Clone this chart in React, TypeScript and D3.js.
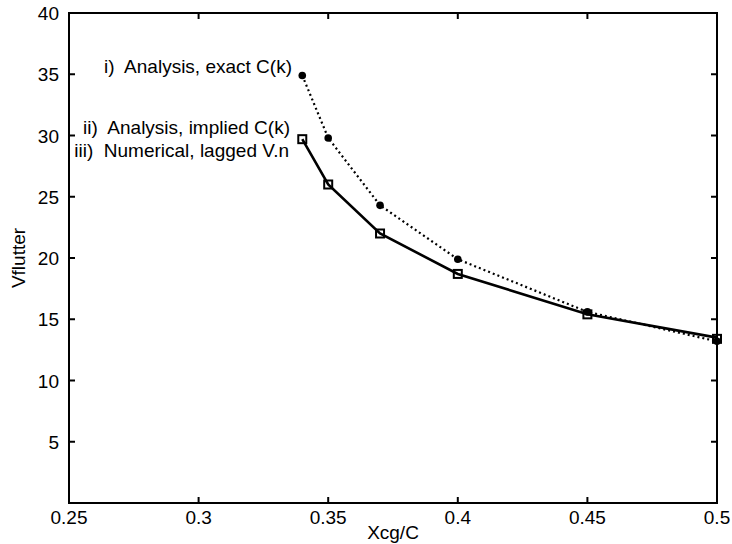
import React from "react";
import * as d3 from "d3";

const xcg: number[] = [0.34, 0.35, 0.37, 0.4, 0.45, 0.5];
const exactCk: number[] = [34.9, 29.8, 24.3, 19.9, 15.6, 13.2];
const impliedCk: number[] = [29.7, 26.0, 22.0, 18.7, 15.4, 13.5];
const laggedVn: number[] = [29.7, 26.0, 22.0, 18.7, 15.4, 13.4];
const xTicks: number[] = [0.25, 0.3, 0.35, 0.4, 0.45, 0.5];
const yTicks: number[] = [5, 10, 15, 20, 25, 30, 35, 40];
const labels: string[] = [
  "i)  Analysis, exact C(k)",
  "ii)  Analysis, implied C(k)",
  "iii)  Numerical, lagged V.n",
];

const W = 732;
const H = 544;
const L = 69, R = 717, T = 13, B = 503;
const FONT = "'Liberation Sans', Arial, Helvetica, sans-serif";
const FS = 19;

export default function App() {
  const x = d3.scaleLinear().domain([0.25, 0.5]).range([L, R]);
  const y = d3.scaleLinear().domain([0, 40]).range([B, T]);
  const line = d3
    .line<[number, number]>()
    .x((d) => x(d[0]))
    .y((d) => y(d[1]));
  const ptsI = xcg.map((v, i) => [v, exactCk[i]] as [number, number]);
  const ptsII = xcg.map((v, i) => [v, impliedCk[i]] as [number, number]);
  const ptsIII = xcg.map((v, i) => [v, laggedVn[i]] as [number, number]);
  const tl = 6;
  return (
    <svg
      width={W}
      height={H}
      style={{ position: "absolute", left: 0, top: 0, background: "#fff" }}
      fontFamily={FONT}
    >
      <rect x={0} y={0} width={W} height={H} fill="#fff" />
      <rect x={L} y={T} width={R - L} height={B - T} fill="none" stroke="#000" strokeWidth={2} />
      {xTicks.map((t) => (
        <g key={"x" + t}>
          <line x1={x(t)} x2={x(t)} y1={B} y2={B - tl} stroke="#000" strokeWidth={2} />
          <line x1={x(t)} x2={x(t)} y1={T} y2={T + tl} stroke="#000" strokeWidth={2} />
          <text x={x(t)} y={B + 21} fontSize={FS} textAnchor="middle" fill="#000">
            {String(t)}
          </text>
        </g>
      ))}
      {yTicks.map((t) => (
        <g key={"y" + t}>
          <line x1={L} x2={L + tl} y1={y(t)} y2={y(t)} stroke="#000" strokeWidth={2} />
          <line x1={R} x2={R - tl} y1={y(t)} y2={y(t)} stroke="#000" strokeWidth={2} />
          <text x={L - 10} y={y(t) + 7} fontSize={FS} textAnchor="end" fill="#000">
            {String(t)}
          </text>
        </g>
      ))}
      <text x={(L + R) / 2} y={539} fontSize={FS} textAnchor="middle" fill="#000">
        Xcg/C
      </text>
      <text
        transform={`translate(25, ${(T + B) / 2}) rotate(-90)`}
        fontSize={FS}
        textAnchor="middle"
        fill="#000"
      >
        Vflutter
      </text>
      <path d={line(ptsI) || ""} fill="none" stroke="#000" strokeWidth={2.2} strokeDasharray="2,3" />
      {ptsI.map((p, i) => (
        <circle key={"c" + i} cx={x(p[0])} cy={y(p[1])} r={3.8} fill="#000" />
      ))}
      <path d={line(ptsII) || ""} fill="none" stroke="#000" strokeWidth={2.6} />
      {ptsIII.map((p, i) => (
        <rect
          key={"s" + i}
          x={x(p[0]) - 4}
          y={y(p[1]) - 4}
          width={8}
          height={8}
          fill="none"
          stroke="#000"
          strokeWidth={2}
        />
      ))}
      <text x={292} y={73} fontSize={FS} textAnchor="end" fill="#000" style={{ whiteSpace: "pre" }}>
        {labels[0]}
      </text>
      <text x={290} y={134} fontSize={FS} textAnchor="end" fill="#000" style={{ whiteSpace: "pre" }}>
        {labels[1]}
      </text>
      <text x={289} y={157} fontSize={FS} textAnchor="end" fill="#000" style={{ whiteSpace: "pre" }}>
        {labels[2]}
      </text>
    </svg>
  );
}
